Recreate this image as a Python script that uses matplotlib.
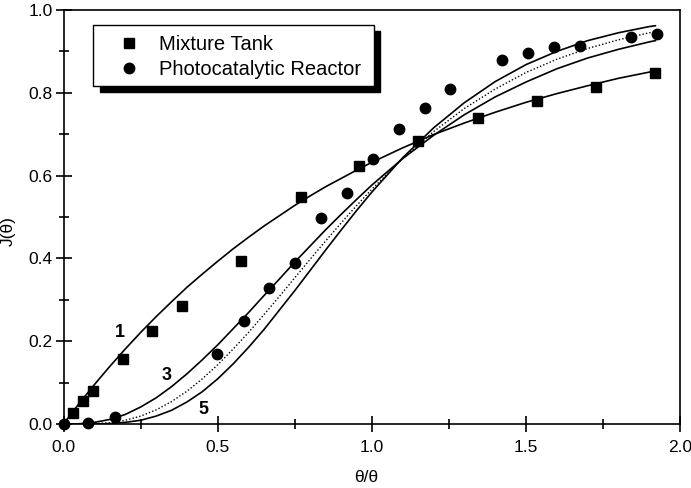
import matplotlib
matplotlib.use("Agg")
import matplotlib.pyplot as plt
from matplotlib.patches import Rectangle

plt.rcParams['font.family'] = ['Liberation Sans', 'DejaVu Sans']

# measured points
tank_x = [0.030, 0.064, 0.095, 0.192, 0.288, 0.384, 0.577, 0.770, 0.958, 1.151, 1.345, 1.536, 1.728, 1.918]
tank_y = [0.027, 0.056, 0.080, 0.157, 0.225, 0.285, 0.393, 0.548, 0.623, 0.684, 0.738, 0.781, 0.815, 0.849]

reactor_x = [0.0, 0.081, 0.166, 0.499, 0.586, 0.668, 0.751, 0.835, 0.919, 1.004, 1.087, 1.171, 1.255,
             1.423, 1.507, 1.590, 1.674, 1.842, 1.926]
reactor_y = [0.0, 0.003, 0.018, 0.169, 0.249, 0.328, 0.390, 0.497, 0.558, 0.639, 0.712, 0.763, 0.809,
             0.879, 0.896, 0.910, 0.912, 0.935, 0.941]

# curves
curve_x = [0.0, 0.05, 0.1, 0.15, 0.2, 0.25, 0.3, 0.35, 0.4, 0.45, 0.5, 0.55, 0.6, 0.65, 0.7, 0.75,
           0.8, 0.85, 0.9, 0.95, 1.0, 1.1, 1.2, 1.3, 1.4, 1.5, 1.6, 1.7, 1.8, 1.9, 1.92]
n1_y = [0.0, 0.049, 0.095, 0.139, 0.181, 0.221, 0.259, 0.295, 0.330, 0.362, 0.393, 0.423, 0.451, 0.478,
        0.503, 0.528, 0.551, 0.573, 0.593, 0.613, 0.632, 0.667, 0.699, 0.727, 0.753, 0.777, 0.798, 0.817,
        0.835, 0.850, 0.853]
n3_y = [0.0, 0.0005, 0.004, 0.011, 0.023, 0.041, 0.063, 0.090, 0.121, 0.155, 0.191, 0.230, 0.269, 0.310,
        0.350, 0.391, 0.430, 0.469, 0.506, 0.542, 0.577, 0.641, 0.697, 0.747, 0.790, 0.826, 0.858, 0.884,
        0.905, 0.923, 0.926]
n4_y = [0.0, 0.0001, 0.001, 0.003, 0.009, 0.019, 0.034, 0.054, 0.079, 0.109, 0.143, 0.181, 0.221, 0.264,
        0.308, 0.353, 0.398, 0.442, 0.485, 0.527, 0.567, 0.641, 0.706, 0.762, 0.809, 0.849, 0.881, 0.907,
        0.928, 0.945, 0.947]
n5_y = [0.0, 0.0, 0.0002, 0.001, 0.004, 0.009, 0.019, 0.033, 0.053, 0.078, 0.109, 0.145, 0.185, 0.228,
        0.275, 0.322, 0.371, 0.420, 0.468, 0.515, 0.560, 0.643, 0.715, 0.776, 0.827, 0.868, 0.900, 0.926,
        0.945, 0.960, 0.962]

fig = plt.figure(figsize=(6.91, 4.88), dpi=100)
ax = fig.add_axes([0.0919, 0.1311, 0.8923, 0.8484])

ax.plot(curve_x, n1_y, color="black", lw=1.2)
ax.plot(curve_x, n3_y, color="black", lw=1.2)
ax.plot(curve_x, n4_y, color="black", lw=1.0, ls=(0, (1, 1.5)))
ax.plot(curve_x, n5_y, color="black", lw=1.2)

ax.plot(tank_x, tank_y, ls="none", marker="s", ms=7, color="black", label="Mixture Tank", clip_on=False)
ax.plot(reactor_x, reactor_y, ls="none", marker="o", ms=7.5, color="black", label="Photocatalytic Reactor",
        clip_on=False)

ax.text(0.183, 0.222, "1", fontsize=13, fontweight="bold", ha="center", va="center")
ax.text(0.333, 0.118, "3", fontsize=13, fontweight="bold", ha="center", va="center")
ax.text(0.453, 0.034, "5", fontsize=13, fontweight="bold", ha="center", va="center")

ax.set_xlim(0, 2.0)
ax.set_ylim(0, 1.0)
ax.set_xticks([0.0, 0.5, 1.0, 1.5, 2.0])
ax.set_xticks([0.25, 0.75, 1.25, 1.75], minor=True)
ax.set_yticks([0.0, 0.2, 0.4, 0.6, 0.8, 1.0])
ax.set_yticks([0.1, 0.3, 0.5, 0.7, 0.9], minor=True)
ax.xaxis.set_major_formatter(plt.FormatStrFormatter("%.1f"))
ax.yaxis.set_major_formatter(plt.FormatStrFormatter("%.1f"))
ax.tick_params(which="major", direction="inout", length=11.5, width=1.2, labelsize=12.5, pad=2)
ax.tick_params(which="minor", direction="inout", length=6.5, width=1.2)
ax.tick_params(axis="x", which="major", pad=6)
for s in ax.spines.values():
    s.set_linewidth(1.2)

# legend with black drop shadow
ax.add_patch(Rectangle((0.0592, 0.802), 0.4541, 0.147, transform=ax.transAxes, facecolor="black",
                       edgecolor="black", zorder=4))
ax.add_patch(Rectangle((0.0479, 0.8164), 0.5036 - 0.0479, 0.9638 - 0.8164, transform=ax.transAxes,
                       facecolor="white", edgecolor="black", lw=1.0, zorder=5))
leg = ax.legend(loc="upper left", bbox_to_anchor=(0.077, 0.958), frameon=False, fontsize=14.5,
                handlelength=1.0, handletextpad=1.0, labelspacing=0.3, borderaxespad=0)
leg.set_zorder(6)

fig.text(8 / 691, 1 - 231 / 488, "J(\u03b8)", rotation=90, ha="center", va="center", fontsize=12.5)
fig.text(366 / 691, 1 - 470 / 488, "\u03b8/\u03b8", ha="center", va="top", fontsize=12.5)

fig.savefig("out.png", dpi=100)
